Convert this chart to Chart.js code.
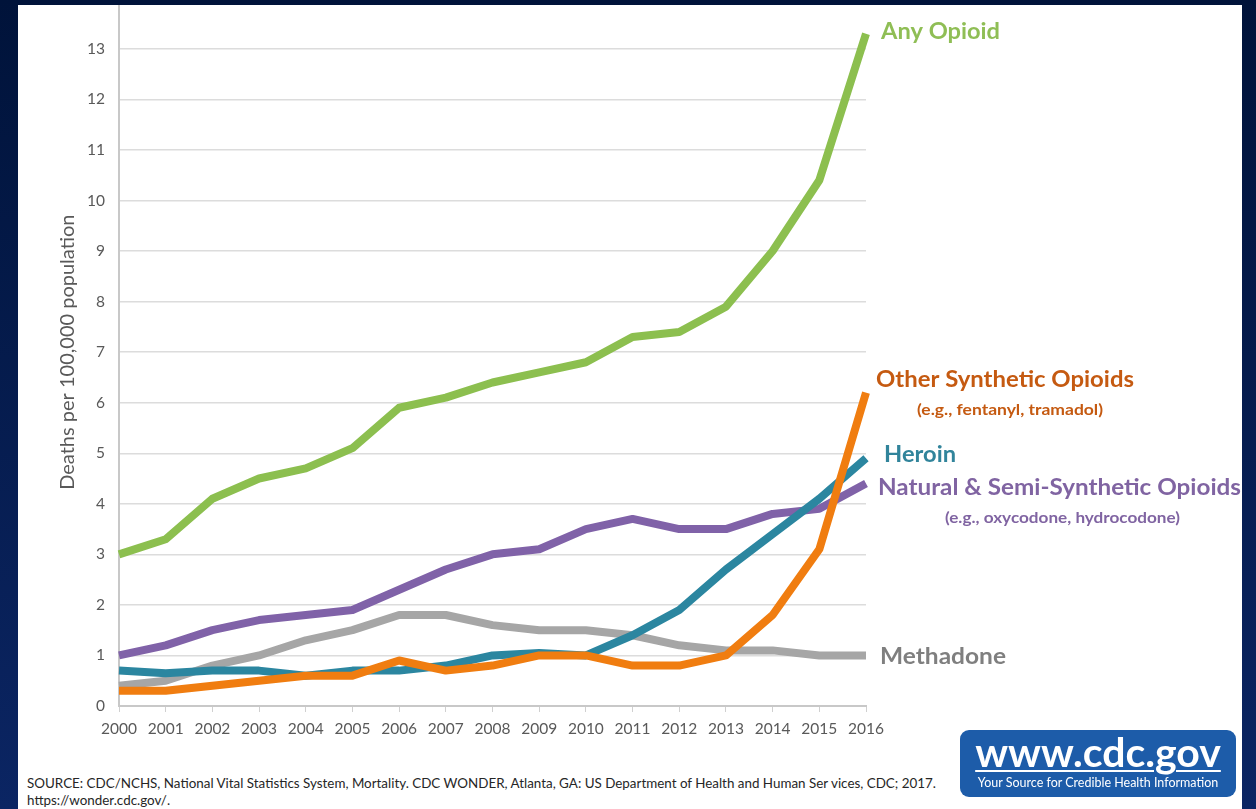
<!DOCTYPE html>
<html>
<head>
<meta charset="utf-8">
<script src="https://cdn.jsdelivr.net/npm/chart.js@4"></script>
<style>
  html, body { margin: 0; padding: 0; }
  body {
    width: 1256px; height: 809px; overflow: hidden; position: relative;
    background: linear-gradient(#00133a, #0b2563);
    font-family: Lato, "Open Sans", sans-serif;
  }
  #panel {
    position: absolute; left: 18px; top: 5px; width: 1224px; height: 804px;
    background: #fff; overflow: hidden;
  }
  #wrap { position: absolute; left: 0; top: -30px; width: 1224px; height: 790px; }
  #source {
    position: absolute; left: 9px; top: 770px; font-size: 13.4px; line-height: 17px;
    color: #262626; white-space: nowrap;
  }
  #logo {
    position: absolute; left: 942px; top: 725px; width: 276px; height: 67px;
    background: #1d5ca9; border-radius: 9px; color: #fff; text-align: center;
  }
  #logo .url { font-weight: bold; font-size: 41px; line-height: 40px; margin-top: 2px;
    text-decoration: underline; text-decoration-thickness: 2px; text-underline-offset: 3px; }
  #logo .tag { font-size: 12.5px; margin-top: 3px; }
</style>
</head>
<body>
<div id="panel">
  <div id="wrap"><canvas id="graph1" width="1224" height="790"></canvas></div>
  <div id="source">SOURCE: CDC/NCHS, National Vital Statistics System, Mortality. CDC WONDER, Atlanta, GA: US Department of Health and Human Ser vices, CDC; 2017.<br>https://wonder.cdc.gov/.</div>
  <div id="logo"><div class="url">www.cdc.gov</div><div class="tag">Your Source for Credible Health Information</div></div>
</div>
<script>
const years = ['2000','2001','2002','2003','2004','2005','2006','2007','2008','2009','2010','2011','2012','2013','2014','2015','2016'];
const anyOpioid = [3.0, 3.3, 4.1, 4.5, 4.7, 5.1, 5.9, 6.1, 6.4, 6.6, 6.8, 7.3, 7.4, 7.9, 9.0, 10.4, 13.3];
const otherSynthetic = [0.3, 0.3, 0.4, 0.5, 0.6, 0.6, 0.9, 0.7, 0.8, 1.0, 1.0, 0.8, 0.8, 1.0, 1.8, 3.1, 6.2];
const heroin = [0.7, 0.65, 0.7, 0.7, 0.6, 0.7, 0.7, 0.8, 1.0, 1.05, 1.0, 1.4, 1.9, 2.7, 3.4, 4.1, 4.9];
const naturalSemi = [1.0, 1.2, 1.5, 1.7, 1.8, 1.9, 2.3, 2.7, 3.0, 3.1, 3.5, 3.7, 3.5, 3.5, 3.8, 3.9, 4.4];
const methadone = [0.4, 0.5, 0.8, 1.0, 1.3, 1.5, 1.8, 1.8, 1.6, 1.5, 1.5, 1.4, 1.2, 1.1, 1.1, 1.0, 1.0];
const yTicks = [0,1,2,3,4,5,6,7,8,9,10,11,12,13,14];

// page -> canvas offset
const OX = 18, OY = -25;

const seriesLabels = [
  { text: 'Any Opioid', x: 881, y: 32, color: '#8fbe55', size: 23, w: 119 },
  { text: 'Other Synthetic Opioids', x: 876, y: 380, color: '#c55a11', size: 22, w: 258 },
  { text: '(e.g., fentanyl, tramadol)', x: 917, y: 410, color: '#c55a11', size: 15.5, w: 186 },
  { text: 'Heroin', x: 884, y: 455, color: '#31849b', size: 22, w: 72 },
  { text: 'Natural & Semi-Synthetic Opioids', x: 878, y: 488, color: '#8064a2', size: 22, w: 363 },
  { text: '(e.g., oxycodone, hydrocodone)', x: 945, y: 518, color: '#8064a2', size: 15.5, w: 235 },
  { text: 'Methadone', x: 880, y: 657, color: '#7f7f7f', size: 23, w: 126 }
];

const labelPlugin = {
  id: 'seriesLabels',
  afterDraw(chart) {
    const ctx = chart.ctx;
    seriesLabels.forEach(l => {
      ctx.save();
      ctx.textBaseline = 'middle';
      ctx.textAlign = 'left';
      ctx.font = 'bold ' + l.size + 'px Lato, "Open Sans", sans-serif';
      ctx.fillStyle = l.color;
      const sx = l.w / ctx.measureText(l.text).width;
      ctx.translate(l.x - OX, l.y - OY);
      ctx.scale(sx, 1);
      ctx.fillText(l.text, 0, 0);
      ctx.restore();
    });
  }
};

function line(label, data, color) {
  return { label: label, data: data, borderColor: color, backgroundColor: color,
    borderWidth: 8, pointRadius: 0, tension: 0, borderJoinStyle: 'round', borderCapStyle: 'butt' };
}

new Chart(document.querySelector('#graph1'), {
  type: 'line',
  data: {
    labels: years,
    datasets: [
      line('Any Opioid', anyOpioid, '#8cbf4f'),
      line('Other Synthetic Opioids', otherSynthetic, '#f07d10'),
      line('Heroin', heroin, '#2b86a0'),
      line('Natural & Semi-Synthetic Opioids', naturalSemi, '#8062a8'),
      line('Methadone', methadone, '#a6a6a6')
    ]
  },
  options: {
    responsive: false,
    animation: false,
    layout: { padding: { left: 0, right: 376, top: 23, bottom: 19 } },
    plugins: { legend: { display: false }, tooltip: { enabled: false } },
    scales: {
      x: {
        afterFit(s) { s.height = 40; },
        grid: { drawOnChartArea: false, drawTicks: true, tickLength: 6, color: '#d0d0d0' },
        border: { color: '#c8c8c8', width: 2 },
        ticks: { color: '#595959', font: { family: 'Lato, "Open Sans", sans-serif', size: 15.5 }, padding: 8, maxRotation: 0, autoSkip: false }
      },
      y: {
        min: 0, max: 14,
        afterFit(s) { s.width = 101; },
        afterBuildTicks(s) { s.ticks = yTicks.map(v => ({ value: v })); },
        grid: { color: '#dcdcdc', lineWidth: 1.5, drawTicks: false },
        border: { color: '#c8c8c8', width: 2 },
        ticks: { color: '#595959', font: { family: 'Lato, "Open Sans", sans-serif', size: 15.5 }, padding: 14 },
        title: { display: true, text: 'Deaths per 100,000 population', color: '#595959',
          font: { family: 'Lato, "Open Sans", sans-serif', size: 20 }, padding: { top: 38, bottom: 0 } }
      }
    }
  },
  plugins: [labelPlugin]
});
</script>
</body>
</html>
